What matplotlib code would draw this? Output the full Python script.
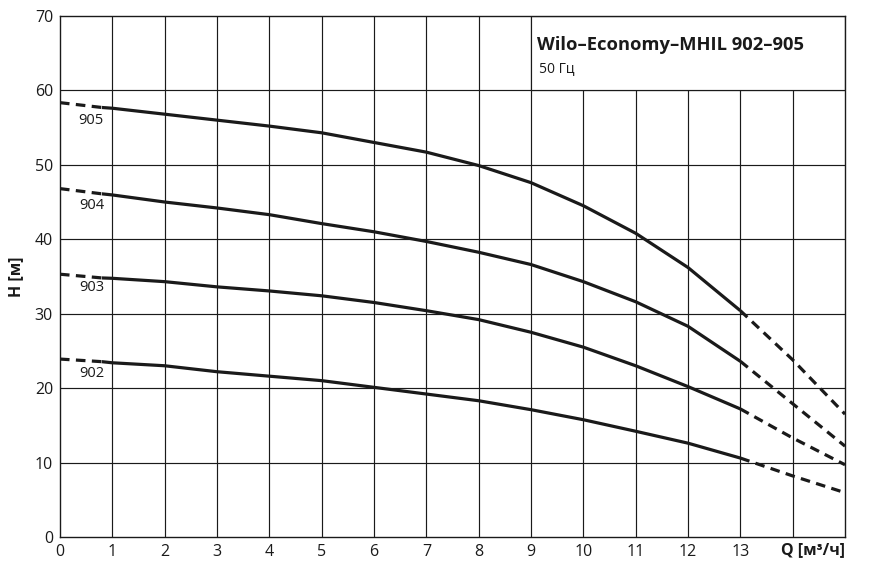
# plot.py
# Pump curves Wilo-Economy-MHIL 902-905 (H over Q), 50 Hz

import matplotlib.pyplot as plt
from matplotlib.patches import Rectangle

plt.rcParams['font.family'] = ['Open Sans', 'DejaVu Sans']

# flow rate where the solid (working) part of each curve lies
q_solid = [0.8, 1, 2, 3, 4, 5, 6, 7, 8, 9, 10, 11, 12, 13]
# dashed parts at low and high flow
q_low = [0, 0.8]
q_high = [13, 14, 15]

pumps = ['905', '904', '903', '902']

h_solid = {
    '905': [57.7, 57.6, 56.8, 56.0, 55.2, 54.3, 53.0, 51.7, 49.9, 47.6, 44.5, 40.8, 36.2, 30.4],
    '904': [46.1, 45.95, 45.0, 44.2, 43.3, 42.1, 41.0, 39.7, 38.25, 36.6, 34.3, 31.6, 28.3, 23.6],
    '903': [34.8, 34.75, 34.3, 33.6, 33.05, 32.4, 31.5, 30.4, 29.2, 27.5, 25.5, 23.0, 20.2, 17.2],
    '902': [23.55, 23.4, 23.0, 22.2, 21.6, 21.0, 20.1, 19.2, 18.3, 17.1, 15.75, 14.2, 12.6, 10.6],
}
h_low = {
    '905': [58.35, 57.7],
    '904': [46.8, 46.1],
    '903': [35.3, 34.8],
    '902': [23.9, 23.55],
}
h_high = {
    '905': [30.4, 23.8, 16.5],
    '904': [23.6, 17.9, 12.2],
    '903': [17.2, 13.3, 9.7],
    '902': [10.6, 8.2, 5.95],
}
# where the pump names sit (Q, H)
label_pos = {'905': (0.6, 55.9), '904': (0.6, 44.5), '903': (0.6, 33.45), '902': (0.6, 22.0)}

x_ticks = list(range(0, 14))
y_ticks = list(range(0, 71, 10))

fig = plt.figure(figsize=(8.69, 5.67), dpi=100)
ax = fig.add_axes([0.069, 0.053, 0.9034, 0.9189])

ax.set_xlim(0, 15)
ax.set_ylim(0, 70)

ink = '#1a1a1a'

# grid
for xv in range(1, 15):
    ax.axvline(xv, color=ink, lw=0.85, zorder=1)
for yv in range(10, 70, 10):
    ax.axhline(yv, color=ink, lw=0.85, zorder=1)

# title box covers the grid in the top right corner
ax.add_patch(Rectangle((9, 60), 6, 10, facecolor='white', edgecolor=ink,
                       lw=0.85, zorder=2))
ax.text(9.12, 66.1, 'Wilo\u2013Economy\u2013MHIL 902\u2013905', fontsize=13.2,
        fontweight='bold', va='center', ha='left', color=ink, zorder=3)
ax.text(9.15, 63.0, '50 Гц', fontsize=10, va='center', ha='left', color=ink, zorder=3)

for p in pumps:
    ax.plot(q_solid, h_solid[p], color=ink, lw=2.3, zorder=4,
            solid_capstyle='butt', solid_joinstyle='round')
    ax.plot(q_low, h_low[p], color=ink, lw=2.3, zorder=4,
            dashes=(3, 2), dash_capstyle='butt')
    ax.plot(q_high, h_high[p], color=ink, lw=2.3, zorder=4,
            dashes=(3, 2), dash_capstyle='butt')
    lx, ly = label_pos[p]
    ax.text(lx, ly, p, fontsize=10.5, ha='center', va='center', color=ink, zorder=5)

ax.set_xticks(x_ticks)
ax.set_yticks(y_ticks)
ax.tick_params(length=0, labelsize=11.5, colors=ink, pad=5)
for s in ax.spines.values():
    s.set_color(ink)
    s.set_linewidth(1.0)
    s.set_zorder(6)

ax.set_ylabel('H [м]', fontsize=11.5, fontweight='bold', color=ink, labelpad=8)
ax.text(15, -0.75, 'Q [м³/ч]', fontsize=11.5, fontweight='bold', ha='right', va='top',
        color=ink)

plt.savefig('out.png', dpi=100)
plt.close()
